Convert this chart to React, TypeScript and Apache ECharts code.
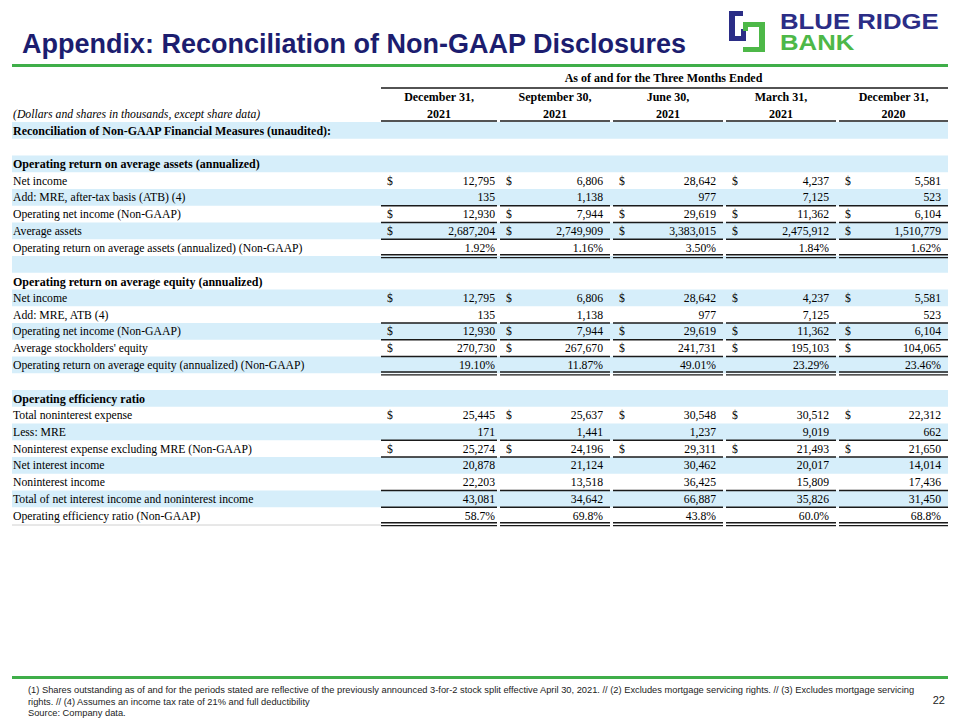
import React, { useEffect, useRef } from "react";
import * as echarts from "echarts";

// ---------- Texts ----------
const title = "Appendix: Reconciliation of Non-GAAP Disclosures";
const logoLine1 = "BLUE RIDGE";
const logoLine2 = "BANK";
const periodHeader = "As of and for the Three Months Ended";
const columnMonths = ["December 31,", "September 30,", "June 30,", "March 31,", "December 31,"];
const columnYears = ["2021", "2021", "2021", "2021", "2020"];
const unitsNote = "(Dollars and shares in thousands, except share data)";
const footnotes = [
  "(1) Shares outstanding as of and for the periods stated are reflective of the previously announced 3-for-2 stock split effective April 30, 2021. // (2) Excludes mortgage servicing rights. // (3) Excludes mortgage servicing",
  "rights. // (4) Assumes an income tax rate of 21% and full deductibility",
  "Source: Company data.",
];
const pageNumber = "22";

// ---------- Values ----------
const netIncome = ["12,795", "6,806", "28,642", "4,237", "5,581"];
const addMreAtb = ["135", "1,138", "977", "7,125", "523"];
const operatingNetIncome = ["12,930", "7,944", "29,619", "11,362", "6,104"];
const averageAssets = ["2,687,204", "2,749,909", "3,383,015", "2,475,912", "1,510,779"];
const operatingRoaa = ["1.92%", "1.16%", "3.50%", "1.84%", "1.62%"];
const averageEquity = ["270,730", "267,670", "241,731", "195,103", "104,065"];
const operatingRoae = ["19.10%", "11.87%", "49.01%", "23.29%", "23.46%"];
const totalNoninterestExpense = ["25,445", "25,637", "30,548", "30,512", "22,312"];
const lessMre = ["171", "1,441", "1,237", "9,019", "662"];
const noninterestExpenseExclMre = ["25,274", "24,196", "29,311", "21,493", "21,650"];
const netInterestIncome = ["20,878", "21,124", "30,462", "20,017", "14,014"];
const noninterestIncome = ["22,203", "13,518", "36,425", "15,809", "17,436"];
const totalRevenue = ["43,081", "34,642", "66,887", "35,826", "31,450"];
const efficiencyRatio = ["58.7%", "69.8%", "43.8%", "60.0%", "68.8%"];

type Row = {
  label: string;
  section?: boolean;
  values?: string[];
  dollar?: boolean;
  ruleAbove?: boolean;
  doubleBelow?: boolean;
};

const rows: Row[] = [
  { label: "Reconciliation of Non-GAAP Financial Measures (unaudited):", section: true },
  { label: "" },
  { label: "Operating return on average assets (annualized)", section: true },
  { label: "Net income", values: netIncome, dollar: true },
  { label: "Add: MRE, after-tax basis (ATB) (4)", values: addMreAtb },
  { label: "Operating net income (Non-GAAP)", values: operatingNetIncome, dollar: true, ruleAbove: true },
  { label: "Average assets", values: averageAssets, dollar: true, ruleAbove: true },
  { label: "Operating return on average assets (annualized) (Non-GAAP)", values: operatingRoaa, ruleAbove: true, doubleBelow: true },
  { label: "" },
  { label: "Operating return on average equity (annualized)", section: true },
  { label: "Net income", values: netIncome, dollar: true },
  { label: "Add: MRE, ATB (4)", values: addMreAtb },
  { label: "Operating net income (Non-GAAP)", values: operatingNetIncome, dollar: true, ruleAbove: true },
  { label: "Average stockholders' equity", values: averageEquity, dollar: true, ruleAbove: true },
  { label: "Operating return on average equity (annualized) (Non-GAAP)", values: operatingRoae, ruleAbove: true, doubleBelow: true },
  { label: "" },
  { label: "Operating efficiency ratio", section: true },
  { label: "Total noninterest expense", values: totalNoninterestExpense, dollar: true },
  { label: "Less: MRE", values: lessMre },
  { label: "Noninterest expense excluding MRE (Non-GAAP)", values: noninterestExpenseExclMre, dollar: true, ruleAbove: true },
  { label: "Net interest income", values: netInterestIncome, ruleAbove: true },
  { label: "Noninterest income", values: noninterestIncome },
  { label: "Total of net interest income and noninterest income", values: totalRevenue, ruleAbove: true },
  { label: "Operating efficiency ratio (Non-GAAP)", values: efficiencyRatio, ruleAbove: true, doubleBelow: true },
];

// ---------- Layout ----------
const NAVY = "#1c1d6f";
const GREEN = "#3fae49";
const BAND = "#d6eefa";
const SERIF = "'Liberation Serif', 'Times New Roman', serif";
const SANS = "'Liberation Sans', Arial, sans-serif";
const TABLE_LEFT = 12;
const TABLE_RIGHT = 948;
const ROW_TOP = 122;
const ROW_H = 16.75;
const GROUP_START = [381, 500, 613, 726, 839];
const GROUP_END = [497, 610, 723, 836, 948];
const VALUE_RIGHT = [495, 603, 716, 829, 941];
const FS = 11.7;
const FS_BOLD = 12;

function buildGraphics() {
  const g: any[] = [];
  const text = (x: number, y: number, t: string, extra: any = {}) => ({
    type: "text",
    x,
    y,
    style: {
      text: t,
      fill: "#000",
      fontFamily: SERIF,
      fontSize: FS,
      align: "left",
      verticalAlign: "middle",
      ...extra,
    },
  });
  const line = (x1: number, y1: number, x2: number, y2: number, w = 1.6, c = "#1a1a1a") => ({
    type: "line",
    shape: { x1, y1, x2, y2 },
    style: { stroke: c, lineWidth: w },
  });

  // Title
  g.push({
    type: "text",
    x: 22,
    y: 44,
    style: { text: title, fill: NAVY, fontFamily: SANS, fontWeight: "bold", fontSize: 27, align: "left", verticalAlign: "middle" },
  });
  g.push({ type: "rect", shape: { x: 12, y: 64, width: 936, height: 3 }, style: { fill: GREEN } });

  // Logo icon
  const blueParts = [
    [729, 11, 14, 5],
    [729, 11, 6, 30],
    [729, 36, 17, 5],
    [741, 29, 5, 12],
  ];
  const greenParts = [
    [743, 22, 22, 5],
    [759, 22, 6, 30],
    [743, 47, 22, 5],
    [743, 22, 5, 9],
  ];
  blueParts.forEach(([x, y, w, h]) => g.push({ type: "rect", shape: { x, y, width: w, height: h }, style: { fill: "#2b2d86" } }));
  greenParts.forEach(([x, y, w, h]) => g.push({ type: "rect", shape: { x, y, width: w, height: h }, style: { fill: "#4db848" } }));
  g.push({
    type: "text", x: 780, y: 21, scaleX: 1.17,
    style: { text: logoLine1, fill: "#2b2d86", fontFamily: SANS, fontWeight: "bold", fontSize: 22, align: "left", verticalAlign: "middle" },
  });
  g.push({
    type: "text", x: 780, y: 42, scaleX: 1.17,
    style: { text: logoLine2, fill: "#4db848", fontFamily: SANS, fontWeight: "bold", fontSize: 22, align: "left", verticalAlign: "middle" },
  });

  // Bands
  rows.forEach((_, i) => {
    if (i % 2 === 0) {
      g.push({ type: "rect", shape: { x: TABLE_LEFT, y: ROW_TOP + i * ROW_H, width: TABLE_RIGHT - TABLE_LEFT, height: ROW_H }, style: { fill: BAND } });
    }
  });

  // Header
  g.push(text((GROUP_START[0] + TABLE_RIGHT) / 2 - 1, 78, periodHeader, { fontWeight: "bold", fontSize: FS_BOLD, align: "center" }));
  g.push(line(GROUP_START[0], 88, TABLE_RIGHT, 88));
  columnMonths.forEach((m, c) => {
    const cx = (GROUP_START[c] + GROUP_END[c]) / 2;
    g.push(text(cx, 97, m, { fontWeight: "bold", fontSize: FS_BOLD, align: "center" }));
    g.push(text(cx, 114, columnYears[c], { fontWeight: "bold", fontSize: FS_BOLD, align: "center" }));
    g.push(line(GROUP_START[c], 121, GROUP_END[c], 121));
  });
  g.push(text(13, 114, unitsNote, { fontStyle: "italic" }));

  // Rows
  rows.forEach((r, i) => {
    const top = ROW_TOP + i * ROW_H;
    const cy = top + ROW_H / 2 + 0.5;
    if (r.label) g.push(text(13, cy, r.label, r.section ? { fontWeight: "bold", fontSize: FS_BOLD } : {}));
    if (r.values) {
      r.values.forEach((v, c) => {
        if (r.dollar) g.push(text(GROUP_START[c] + 6, cy, "$"));
        g.push(text(VALUE_RIGHT[c], cy, v, { align: "right" }));
        if (r.ruleAbove) g.push(line(GROUP_START[c], top, GROUP_END[c], top));
        if (r.doubleBelow) {
          g.push(line(GROUP_START[c], top + ROW_H - 1.2, GROUP_END[c], top + ROW_H - 1.2, 1.4));
          g.push(line(GROUP_START[c], top + ROW_H + 1.6, GROUP_END[c], top + ROW_H + 1.6, 1.4));
        }
      });
    }
  });
  const tableBottom = ROW_TOP + rows.length * ROW_H;
  g.push(line(TABLE_LEFT, tableBottom + 1, GROUP_START[0], tableBottom + 1, 1, "#d0d0d0"));

  // Footer
  g.push({ type: "rect", shape: { x: 12, y: 676, width: 936, height: 3 }, style: { fill: GREEN } });
  footnotes.forEach((f, i) => {
    g.push({
      type: "text", x: 28, y: 690 + i * 11.5,
      style: { text: f, fill: "#222", fontFamily: SANS, fontSize: 9.3, align: "left", verticalAlign: "middle" },
    });
  });
  g.push({
    type: "text", x: 945, y: 700,
    style: { text: pageNumber, fill: "#222", fontFamily: SANS, fontSize: 11, align: "right", verticalAlign: "middle" },
  });
  return g;
}

export default function App() {
  const ref = useRef<HTMLDivElement>(null);
  useEffect(() => {
    if (!ref.current) return;
    const chart = echarts.init(ref.current, null, { renderer: "svg" });
    chart.setOption({
      animation: false,
      backgroundColor: "#ffffff",
      graphic: { elements: buildGraphics() },
    });
    return () => chart.dispose();
  }, []);
  return (
    <div
      ref={ref}
      style={{ position: "fixed", left: 0, top: 0, width: 960, height: 720, background: "#fff" }}
    />
  );
}
